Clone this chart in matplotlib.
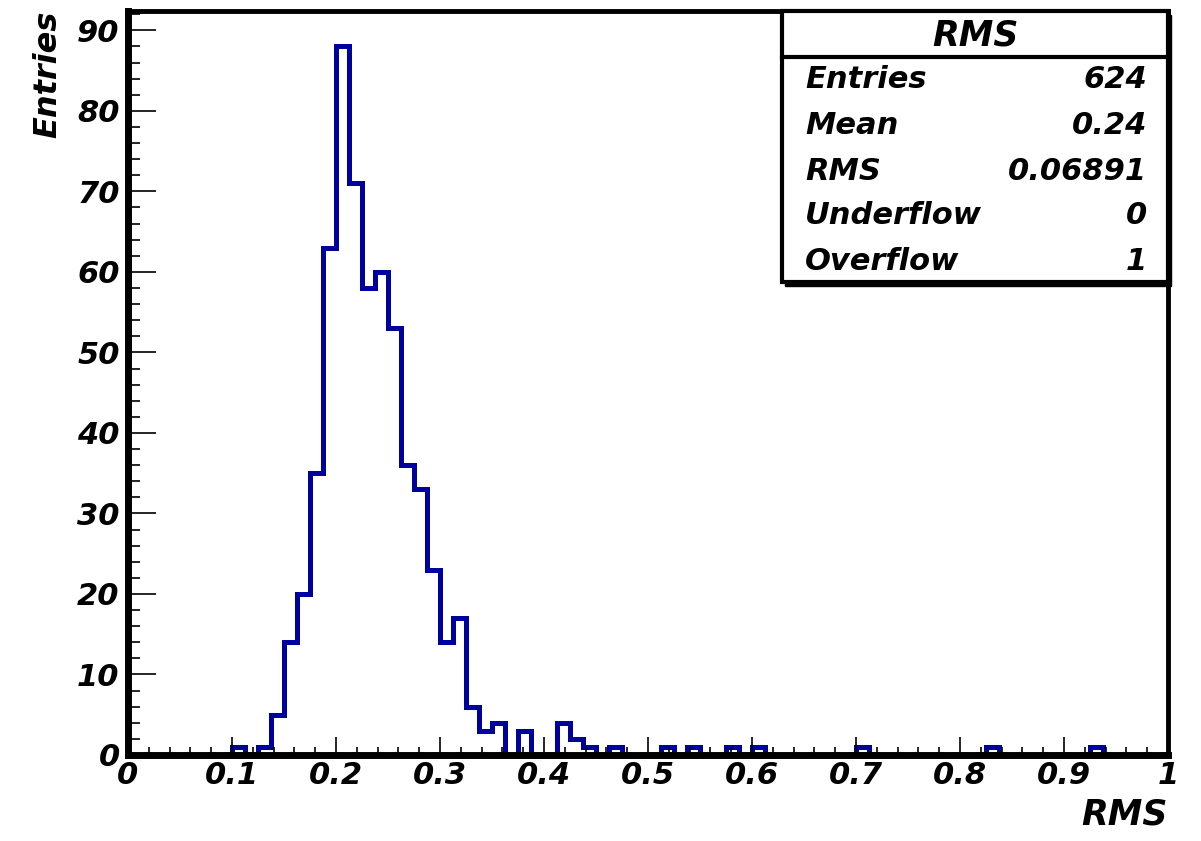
import numpy as np
import matplotlib.pyplot as plt
from matplotlib.patches import Rectangle
from matplotlib.ticker import MultipleLocator

# histogram: 80 bins from 0 to 1
n_bins = 80
x_min, x_max = 0.0, 1.0
# non-empty bins (bin index -> entries)
filled_bins = [8, 10, 11, 12, 13, 14, 15, 16, 17, 18, 19, 20, 21, 22, 23, 24, 25,
               26, 27, 28, 30, 33, 34, 35, 37, 41, 43, 46, 48, 56, 66, 74]
filled_counts = [1, 1, 5, 14, 20, 35, 63, 88, 71, 58, 60, 53, 36, 33, 23, 14, 17,
                 6, 3, 4, 3, 4, 2, 1, 1, 1, 1, 1, 1, 1, 1, 1]

stat_labels = ['Entries', 'Mean', 'RMS', 'Underflow', 'Overflow']
stat_values = ['624', '0.24', '0.06891', '0', '1']
hist_title = 'RMS'

counts = np.zeros(n_bins)
counts[filled_bins] = filled_counts
edges = np.linspace(x_min, x_max, n_bins + 1)

W, H = 1201, 841
font = dict(family='DejaVu Sans', weight='bold', style='oblique')
line_col = '#00009e'

fig = plt.figure(figsize=(W / 100, H / 100), dpi=100)
ax = fig.add_axes([128 / W, 1 - 755 / H, (1168 - 128) / W, (755 - 11) / H])

ax.stairs(counts, edges, color=line_col, lw=3.6, baseline=0)
ax.set_xlim(x_min, x_max)
ax.set_ylim(0, counts.max() * 1.05)

# ROOT-like ticks
ax.xaxis.set_major_locator(MultipleLocator(0.1))
ax.xaxis.set_minor_locator(MultipleLocator(0.02))
ax.yaxis.set_major_locator(MultipleLocator(10))
ax.yaxis.set_minor_locator(MultipleLocator(2))
ax.tick_params(axis='x', which='major', direction='in', length=13, width=1.2, pad=4)
ax.tick_params(axis='x', which='minor', direction='in', length=6, width=1.2)
ax.tick_params(axis='y', which='major', direction='in', length=20, width=1.2, pad=6)
ax.tick_params(axis='y', which='minor', direction='in', length=8.5, width=1.2)

ax.set_xticks(np.round(np.arange(0, 1.01, 0.1), 1))
ax.set_xticklabels(['0'] + ['%.1f' % v for v in np.arange(0.1, 0.95, 0.1)] + ['1'])
for lab in ax.get_xticklabels() + ax.get_yticklabels():
    lab.set_fontproperties(font)
    lab.set_fontsize(22)

for side in ['left', 'bottom']:
    ax.spines[side].set_linewidth(5)
for side in ['top', 'right']:
    ax.spines[side].set_linewidth(3.5)

ax.set_xlabel('RMS', fontsize=25, loc='right', labelpad=6, **font)
ax.set_ylabel('Entries', fontsize=23, loc='top', labelpad=10, **font)

# stats box
bx0, by0, bx1, by1 = 782, 11, 1168, 282
fig.patches.append(Rectangle((bx0 / W + 3 / W, 1 - (by1 + 4) / H), (bx1 - bx0) / W, (by1 - by0) / H,
                             transform=fig.transFigure, facecolor='black', edgecolor='black', zorder=5))
fig.patches.append(Rectangle((bx0 / W, 1 - by1 / H), (bx1 - bx0) / W, (by1 - by0) / H,
                             transform=fig.transFigure, facecolor='white', edgecolor='black',
                             lw=3, zorder=6))
fig.add_artist(plt.Line2D([bx0 / W, bx1 / W], [1 - 57 / H, 1 - 57 / H],
                          transform=fig.transFigure, color='black', lw=3, zorder=7))
fig.text((bx0 + bx1) / 2 / W, 1 - 35 / H, hist_title, ha='center', va='center',
         fontsize=25, zorder=8, **font)
row_y = [79, 125, 171, 216, 262]
for lab, val, y in zip(stat_labels, stat_values, row_y):
    fig.text(805 / W, 1 - y / H, lab, ha='left', va='center', fontsize=22, zorder=8, **font)
    fig.text(1147 / W, 1 - y / H, val, ha='right', va='center', fontsize=22, zorder=8, **font)

fig.savefig('out.png', dpi=100, facecolor='white')
